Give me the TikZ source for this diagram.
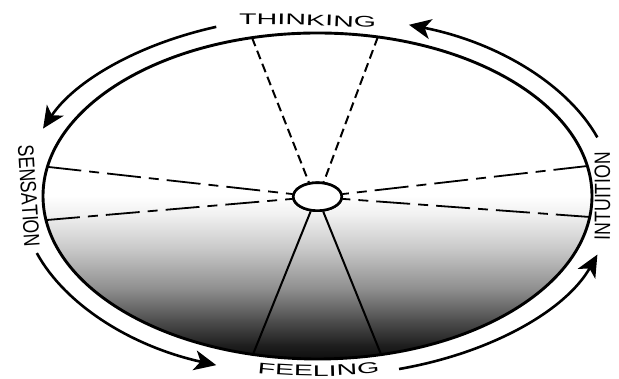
\documentclass[tikz,border=0pt]{standalone}
\usepackage{fontspec}
\setmainfont{Liberation Sans}
\newfontfamily\hfont[FakeStretch=1.86]{Liberation Sans}
\newfontfamily\vfont[FakeStretch=0.79]{Liberation Sans}
\usetikzlibrary{arrows.meta,decorations.text,shapes.geometric,calc}
\begin{document}
\begin{tikzpicture}[x=1pt,y=1pt,
  rim/.style={line width=2.9pt},
  flow/.style={line width=2.6pt,-{Stealth[length=22pt,width=20pt,inset=6pt]}},
  thinkline/.style={line width=2pt,dash pattern=on 9pt off 5pt},
  axisline/.style={line width=1.8pt,dash pattern=on 34pt off 8pt on 10pt off 8pt},
  feelline/.style={line width=2pt},
  hubstyle/.style={draw,ellipse,line width=2.6pt,minimum width=48.5pt,minimum height=28pt,inner sep=0pt,fill=white},
  band/.style={draw=none}]
\useasboundingbox (0,0) rectangle (619,379);
\coordinate (C) at (317.5,183);
% gradient fill of the big ellipse
\begin{scope}
  \clip (C) ellipse [x radius=274.5, y radius=163];
  \fill[white] (30,0) rectangle (600,379);
  \shade[band,top color=white,bottom color=white!94!black] (30,163.5) rectangle (600,183.5);
  \shade[band,top color=white!94!black,bottom color=white!78!black] (30,128.5) rectangle (600,164);
  \shade[band,top color=white!78!black,bottom color=white!55!black] (30,88.5) rectangle (600,129);
  \shade[band,top color=white!55!black,bottom color=white!31!black] (30,58.5) rectangle (600,89);
  \shade[band,top color=white!31!black,bottom color=white!12!black] (30,33.5) rectangle (600,59);
  \shade[band,top color=white!12!black,bottom color=white!3!black] (30,15) rectangle (600,34);
\end{scope}
% points on the rim
\coordinate (tl) at ($(C)+(103.8:274.5pt and 163pt)$);
\coordinate (tr) at ($(C)+(77.3:274.5pt and 163pt)$);
\coordinate (bl) at ($(C)+(256.4:274.5pt and 163pt)$);
\coordinate (br) at ($(C)+(283.4:274.5pt and 163pt)$);
\coordinate (lu) at ($(C)+(169.7:274.5pt and 163pt)$);
\coordinate (ll) at ($(C)+(188.5:274.5pt and 163pt)$);
\coordinate (ru) at ($(C)+(10.6:274.5pt and 163pt)$);
\coordinate (rl) at ($(C)+(352.6:274.5pt and 163pt)$);
\node[hubstyle] (hub) at (317.5,182.3) {};
% spokes
\draw[thinkline] (tl) -- (hub.121);
\draw[thinkline] (tr) -- (hub.67);
\draw[feelline] (bl) -- (hub.245);
\draw[feelline] (br) -- (hub.291);
\draw[axisline] (lu) -- (hub.174);
\draw[axisline] (ll) -- (hub.185);
\draw[axisline] (ru) -- (hub.6);
\draw[axisline] (rl) -- (hub.355);
\node[hubstyle] (hub2) at (hub.center) {};
% rim
\draw[rim] (C) ellipse [x radius=274.5, y radius=163];
% outer arrows
\coordinate (a1) at ($(C)+(110:296pt and 180pt)$);
\coordinate (a2) at ($(C)+(19:296pt and 180pt)$);
\coordinate (a3) at ($(C)+(198.5:296pt and 180pt)$);
\coordinate (a4) at ($(C)+(286:296pt and 180pt)$);
\draw[flow] (a1) arc[start angle=110,end angle=158,x radius=296,y radius=180];
\draw[flow] (a2) arc[start angle=19,end angle=72,x radius=296,y radius=180];
\draw[flow] (a3) arc[start angle=198.5,end angle=250,x radius=296,y radius=180];
\draw[flow] (a4) arc[start angle=286,end angle=341,x radius=296,y radius=180];
% labels
\coordinate (t1) at (227,354.4);
\coordinate (t2) at (388,350.3);
\path[decorate,decoration={text along path,text align=center,
  text={|\hfont\fontsize{15.4pt}{16pt}\selectfont|THINKING}}]
  (t1) .. controls (280,354.8) and (335,353.2) .. (t2);
\coordinate (f1) at (249,7);
\coordinate (f2) at (388,7.3);
\path[decorate,decoration={text along path,text align=center,
  text={|\hfont\fontsize{15.4pt}{16pt}\selectfont|FEELING}}]
  (f1) .. controls (290,1.4) and (345,1.4) .. (f2);
\coordinate (s1) at (17.5,241);
\coordinate (s2) at (25,124);
\path[decorate,decoration={text along path,text align=center,
  text={|\vfont\fontsize{22.3pt}{24pt}\selectfont|SENSATION}}]
  (s1) -- (s2);
\coordinate (i1) at (609.5,124);
\coordinate (i2) at (609.5,242);
\path[decorate,decoration={text along path,text align=center,
  text={|\vfont\fontsize{22.3pt}{24pt}\selectfont|INTUITION}}]
  (i1) .. controls (610.5,150) and (610.5,210) .. (i2);
\end{tikzpicture}
\end{document}
